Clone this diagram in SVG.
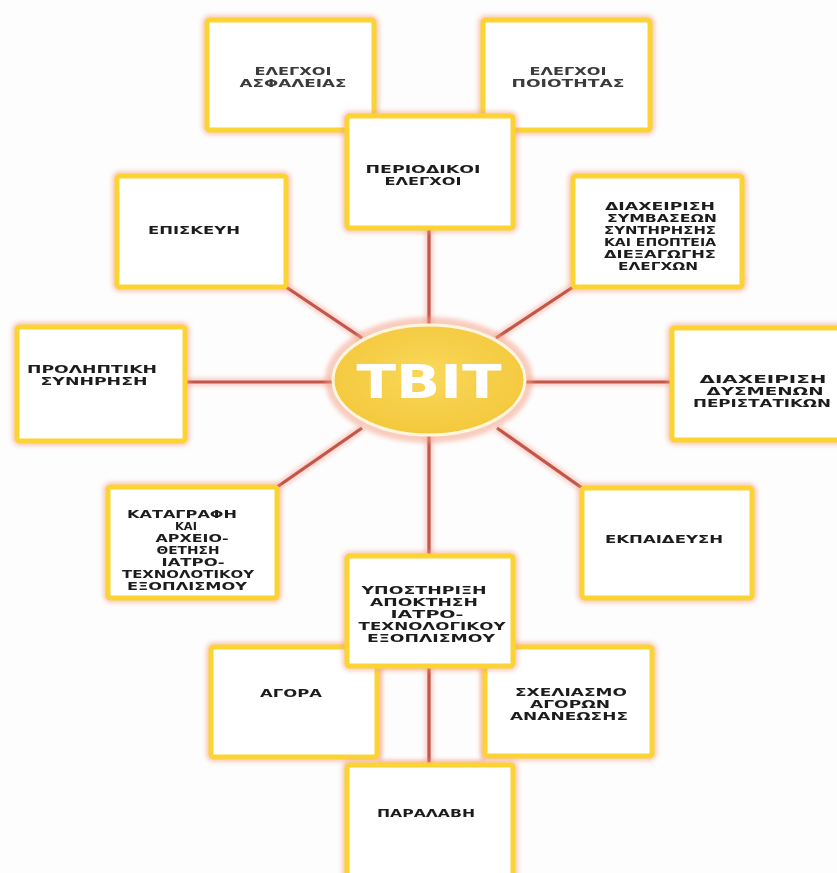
<svg xmlns="http://www.w3.org/2000/svg" width="837" height="873" viewBox="0 0 837 873">
  <defs>
    <filter id="soft" x="-20%" y="-20%" width="140%" height="140%">
      <feGaussianBlur stdDeviation="2.2"/>
    </filter>
    <filter id="txtsoft" x="-5%" y="-20%" width="110%" height="140%">
      <feGaussianBlur stdDeviation="0.45"/>
    </filter>
    <radialGradient id="hubFill" cx="50%" cy="45%" r="60%">
      <stop offset="0" stop-color="#f9d85a"/>
      <stop offset="1" stop-color="#f3c73a"/>
    </radialGradient>
    <style>
      .halo { fill: none; stroke: #f39b80; stroke-width: 10; opacity: 0.5; filter: url(#soft); }
      .box { fill: #ffffff; stroke: #fbd434; stroke-width: 5; }
      .lbl { font-family: "DejaVu Sans", "Liberation Sans", sans-serif; font-weight: bold; font-size: 10px; fill: #1e1e1e; text-anchor: middle; filter: url(#txtsoft); }
      .faint { fill: #3a3a3a; }
      .conn-halo { stroke: #f4b2a2; stroke-width: 8; opacity: 0.6; filter: url(#soft); fill: none; }
      .conn { stroke: #c4554a; stroke-width: 3.2; fill: none; }
      .ghost { fill: none; stroke: #f6c7b8; stroke-width: 3; filter: url(#soft); }
    </style>
  </defs>

  <rect width="837" height="873" fill="#fdfdfd"/>

  <!-- faint backing shapes -->
  <rect class="ghost" x="380" y="667" width="103" height="96"/>
  <line class="ghost" x1="373" y1="110" x2="485" y2="110"/>

  <!-- connectors -->
  <g id="connectors">
    <g class="conn-halo">
      <line x1="429" y1="228" x2="429" y2="326"/>
      <line x1="286" y1="287" x2="362" y2="338"/>
      <line x1="573" y1="287" x2="496" y2="338"/>
      <line x1="185" y1="382" x2="334" y2="382"/>
      <line x1="524" y1="382" x2="672" y2="382"/>
      <line x1="277" y1="487" x2="362" y2="428"/>
      <line x1="582" y1="488" x2="497" y2="428"/>
      <line x1="429" y1="435" x2="429" y2="556"/>
      <line x1="429" y1="665" x2="429" y2="765"/>
    </g>
    <g class="conn">
      <line x1="429" y1="228" x2="429" y2="326"/>
      <line x1="286" y1="287" x2="362" y2="338"/>
      <line x1="573" y1="287" x2="496" y2="338"/>
      <line x1="185" y1="382" x2="334" y2="382"/>
      <line x1="524" y1="382" x2="672" y2="382"/>
      <line x1="277" y1="487" x2="362" y2="428"/>
      <line x1="582" y1="488" x2="497" y2="428"/>
      <line x1="429" y1="435" x2="429" y2="556"/>
      <line x1="429" y1="665" x2="429" y2="765"/>
    </g>
  </g>

  <!-- top row -->
  <g id="safety-checks">
    <rect class="halo" x="207" y="20" width="167" height="110" rx="3"/>
    <rect class="box" x="207" y="20" width="167" height="110" rx="3"/>
    <text class="lbl faint" x="293" y="75" textLength="77" lengthAdjust="spacingAndGlyphs">ΕΛΕΓΧΟΙ</text>
    <text class="lbl faint" x="293" y="87" textLength="107" lengthAdjust="spacingAndGlyphs">ΑΣΦΑΛΕΙΑΣ</text>
  </g>
  <g id="quality-checks">
    <rect class="halo" x="483" y="20" width="167" height="110" rx="3"/>
    <rect class="box" x="483" y="20" width="167" height="110" rx="3"/>
    <text class="lbl faint" x="568" y="75" textLength="77" lengthAdjust="spacingAndGlyphs">ΕΛΕΓΧΟΙ</text>
    <text class="lbl faint" x="568" y="87" textLength="113" lengthAdjust="spacingAndGlyphs">ΠΟΙΟΤΗΤΑΣ</text>
  </g>
  <g id="periodic-checks">
    <rect class="halo" x="347" y="116" width="166" height="112" rx="3"/>
    <rect class="box" x="347" y="116" width="166" height="112" rx="3"/>
    <text class="lbl" x="423" y="173" textLength="115" lengthAdjust="spacingAndGlyphs">ΠΕΡΙΟΔΙΚΟΙ</text>
    <text class="lbl" x="423" y="185" textLength="77" lengthAdjust="spacingAndGlyphs">ΕΛΕΓΧΟΙ</text>
  </g>

  <!-- upper ring -->
  <g id="repair">
    <rect class="halo" x="117" y="176" width="169" height="111" rx="3"/>
    <rect class="box" x="117" y="176" width="169" height="111" rx="3"/>
    <text class="lbl" x="194" y="234" textLength="92" lengthAdjust="spacingAndGlyphs">ΕΠΙΣΚΕΥΗ</text>
  </g>
  <g id="contracts">
    <rect class="halo" x="573" y="176" width="169" height="111" rx="3"/>
    <rect class="box" x="573" y="176" width="169" height="111" rx="3"/>
    <text class="lbl" x="660" y="210" textLength="110" lengthAdjust="spacingAndGlyphs">ΔΙΑΧΕΙΡΙΣΗ</text>
    <text class="lbl" x="662" y="222" textLength="110" lengthAdjust="spacingAndGlyphs">ΣΥΜΒΑΣΕΩΝ</text>
    <text class="lbl" x="660" y="234" textLength="112" lengthAdjust="spacingAndGlyphs">ΣΥΝΤΗΡΗΣΗΣ</text>
    <text class="lbl" x="660" y="246" textLength="112" lengthAdjust="spacingAndGlyphs">ΚΑΙ ΕΠΟΠΤΕΙΑ</text>
    <text class="lbl" x="660" y="258" textLength="112" lengthAdjust="spacingAndGlyphs">ΔΙΕΞΑΓΩΓΗΣ</text>
    <text class="lbl" x="658" y="270" textLength="80" lengthAdjust="spacingAndGlyphs">ΕΛΕΓΧΩΝ</text>
  </g>

  <!-- middle row -->
  <g id="preventive">
    <rect class="halo" x="17" y="327" width="168" height="114" rx="3"/>
    <rect class="box" x="17" y="327" width="168" height="114" rx="3"/>
    <text class="lbl" x="92" y="373" textLength="130" lengthAdjust="spacingAndGlyphs">ΠΡΟΛΗΠΤΙΚΗ</text>
    <text class="lbl" x="94" y="385" textLength="107" lengthAdjust="spacingAndGlyphs">ΣΥΝΗΡΗΣΗ</text>
  </g>
  <g id="hub">
    <ellipse cx="429" cy="380" rx="99" ry="58" fill="none" stroke="#f39b80" stroke-width="10" opacity="0.5" filter="url(#soft)"/>
    <ellipse cx="429" cy="380" rx="96" ry="55" fill="url(#hubFill)" stroke="#fff6e0" stroke-width="3"/>
    <text x="429" y="398" font-family="DejaVu Sans, Liberation Sans, sans-serif" font-weight="bold" font-size="46" fill="#ffffff" text-anchor="middle" textLength="145" lengthAdjust="spacingAndGlyphs">TBIT</text>
  </g>
  <g id="incidents">
    <rect class="halo" x="672" y="328" width="172" height="112" rx="3"/>
    <rect class="box" x="672" y="328" width="172" height="112" rx="3"/>
    <text class="lbl" x="763" y="383" textLength="127" lengthAdjust="spacingAndGlyphs">ΔΙΑΧΕΙΡΙΣΗ</text>
    <text class="lbl" x="765" y="395" textLength="117" lengthAdjust="spacingAndGlyphs">ΔΥΣΜΕΝΩΝ</text>
    <text class="lbl" x="762" y="407" textLength="138" lengthAdjust="spacingAndGlyphs">ΠΕΡΙΣΤΑΤΙΚΩΝ</text>
  </g>

  <!-- lower ring -->
  <g id="inventory">
    <rect class="halo" x="108" y="487" width="169" height="111" rx="3"/>
    <rect class="box" x="108" y="487" width="169" height="111" rx="3"/>
    <text class="lbl" x="182" y="518" textLength="110" lengthAdjust="spacingAndGlyphs">ΚΑΤΑΓΡΑΦΗ</text>
    <text class="lbl" x="186" y="530" textLength="22" lengthAdjust="spacingAndGlyphs">ΚΑΙ</text>
    <text class="lbl" x="192" y="542" textLength="73" lengthAdjust="spacingAndGlyphs">ΑΡΧΕΙΟ-</text>
    <text class="lbl" x="188" y="554" textLength="63" lengthAdjust="spacingAndGlyphs">ΘΕΤΗΣΗ</text>
    <text class="lbl" x="193" y="566" textLength="63" lengthAdjust="spacingAndGlyphs">ΙΑΤΡΟ-</text>
    <text class="lbl" x="188" y="578" textLength="132" lengthAdjust="spacingAndGlyphs">ΤΕΧΝΟΛΟΤΙΚΟΥ</text>
    <text class="lbl" x="187" y="590" textLength="120" lengthAdjust="spacingAndGlyphs">ΕΞΟΠΛΙΣΜΟΥ</text>
  </g>
  <g id="training">
    <rect class="halo" x="582" y="488" width="170" height="110" rx="3"/>
    <rect class="box" x="582" y="488" width="170" height="110" rx="3"/>
    <text class="lbl" x="664" y="543" textLength="118" lengthAdjust="spacingAndGlyphs">ΕΚΠΑΙΔΕΥΣΗ</text>
  </g>

  <!-- acquisition branch -->
  <g id="purchase">
    <rect class="halo" x="211" y="647" width="166" height="110" rx="3"/>
    <rect class="box" x="211" y="647" width="166" height="110" rx="3"/>
    <text class="lbl" x="291" y="697" textLength="62" lengthAdjust="spacingAndGlyphs">ΑΓΟΡΑ</text>
  </g>
  <g id="renewal-planning">
    <rect class="halo" x="485" y="647" width="167" height="109" rx="3"/>
    <rect class="box" x="485" y="647" width="167" height="109" rx="3"/>
    <text class="lbl" x="571" y="696" textLength="112" lengthAdjust="spacingAndGlyphs">ΣΧΕΛΙΑΣΜΟ</text>
    <text class="lbl" x="570" y="708" textLength="80" lengthAdjust="spacingAndGlyphs">ΑΓΟΡΩΝ</text>
    <text class="lbl" x="569" y="720" textLength="118" lengthAdjust="spacingAndGlyphs">ΑΝΑΝΕΩΣΗΣ</text>
  </g>
  <g id="acquisition-support">
    <rect class="halo" x="347" y="556" width="166" height="110" rx="3"/>
    <rect class="box" x="347" y="556" width="166" height="110" rx="3"/>
    <text class="lbl" x="424" y="594" textLength="125" lengthAdjust="spacingAndGlyphs">ΥΠΟΣΤΗΡΙΞΗ</text>
    <text class="lbl" x="424" y="606" textLength="108" lengthAdjust="spacingAndGlyphs">ΑΠΟΚΤΗΣΗ</text>
    <text class="lbl" x="427" y="618" textLength="73" lengthAdjust="spacingAndGlyphs">ΙΑΤΡΟ-</text>
    <text class="lbl" x="432" y="630" textLength="147" lengthAdjust="spacingAndGlyphs">ΤΕΧΝΟΛΟΓΙΚΟΥ</text>
    <text class="lbl" x="431" y="642" textLength="128" lengthAdjust="spacingAndGlyphs">ΕΞΟΠΛΙΣΜΟΥ</text>
  </g>
  <g id="receipt">
    <rect class="halo" x="347" y="765" width="166" height="115" rx="3"/>
    <rect class="box" x="347" y="765" width="166" height="115" rx="3"/>
    <text class="lbl" x="426" y="817" textLength="98" lengthAdjust="spacingAndGlyphs">ΠΑΡΑΛΑΒΗ</text>
  </g>
</svg>
